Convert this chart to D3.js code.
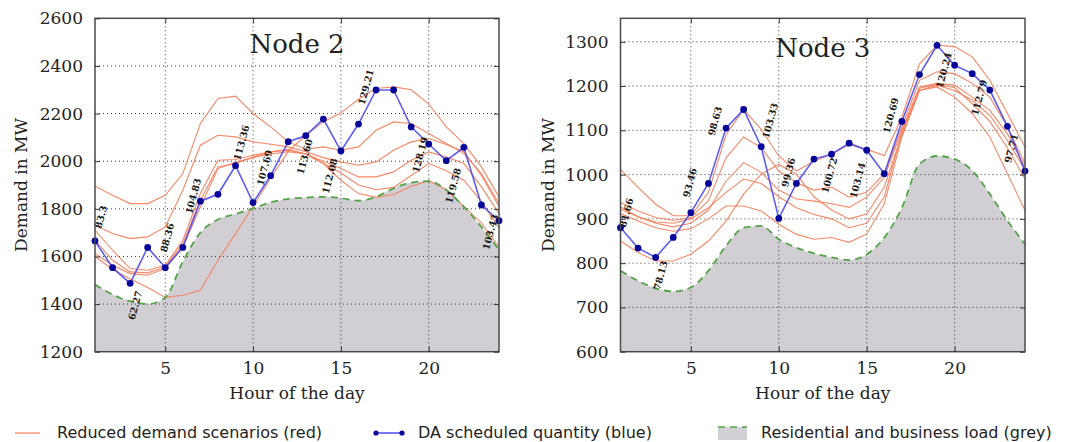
<!DOCTYPE html>
<html><head><meta charset="utf-8">
<script src="https://cdn.jsdelivr.net/npm/d3@7"></script>
<style>body{margin:0;background:#fff}svg{display:block}</style>
</head><body>
<svg id="chart" width="1076" height="442"></svg>
<script>
// ---------- DATA ----------
const hours = [1,2,3,4,5,6,7,8,9,10,11,12,13,14,15,16,17,18,19,20,21,22,23,24];
const xTicks = [5,10,15,20];
const node2YTicks = [1200,1400,1600,1800,2000,2200,2400,2600];
const node3YTicks = [600,700,800,900,1000,1100,1200,1300];

const node2Load = [1482,1440,1412,1400,1428,1578,1700,1755,1778,1802,1827,1842,1847,1850,1845,1834,1850,1886,1910,1916,1879,1808,1724,1628];
const node2Scheduled = [1665,1553,1487,1638,1553,1638,1832,1861,1981,1826,1939,2082,2107,2177,2043,2156,2299,2299,2144,2072,2002,2058,1816,1750];
const node2Scenario1 = [1895,1857,1822,1822,1857,1948,2158,2263,2273,2200,2144,2081,2050,2060,2046,2060,2130,2165,2158,2116,2074,2032,1948,1822];
const node2Scenario2 = [1731,1696,1675,1682,1724,1878,2067,2109,2102,2081,2071,2060,2040,2015,1997,1983,1997,2046,2081,2095,2070,2040,1940,1810];
const node2Scenario3 = [1710,1626,1549,1542,1563,1668,1864,2004,2007,2025,2039,2046,2030,2000,1969,1934,1934,1955,2004,2039,2018,1990,1892,1780];
const node2Scenario4 = [1668,1584,1535,1531,1556,1654,1836,1976,1990,2018,2039,2050,2030,1990,1950,1900,1880,1890,1940,1990,1960,1920,1830,1720];
const node2Scenario5 = [1612,1563,1528,1521,1549,1640,1808,1969,1995,2015,2030,2040,2030,1990,1920,1864,1848,1860,1895,1918,1880,1810,1740,1640];
const node2Scenario6 = [1600,1545,1505,1470,1428,1437,1458,1584,1696,1810,1930,2040,2110,2165,2203,2260,2305,2312,2300,2240,2144,2074,1976,1850];

const node3Load = [783,760,743,736,745,783,839,880,884,854,835,822,813,807,820,858,925,1024,1042,1035,1009,956,896,843];
const node3Scheduled = [880,834,813,858,914,980,1105,1147,1063,901,980,1035,1046,1071,1055,1002,1120,1226,1292,1247,1228,1191,1109,1008];
const node3Scenario1 = [1012,971,933,907,907,960,1090,1147,1102,1042,1008,1030,1046,1068,1057,1043,1130,1250,1292,1289,1266,1213,1138,1062];
const node3Scenario2 = [937,918,903,897,903,941,1038,1085,1061,1008,982,965,972,949,960,1002,1107,1213,1232,1228,1206,1175,1108,1025];
const node3Scenario3 = [922,905,890,882,890,920,985,1027,1005,965,945,940,934,926,949,994,1100,1198,1206,1202,1175,1145,1092,1017];
const node3Scenario4 = [912,895,880,872,878,900,929,929,918,888,865,854,858,847,866,934,1085,1190,1202,1190,1168,1134,1077,1010];
const node3Scenario5 = [850,824,805,805,820,850,895,956,1001,1023,1001,950,920,900,911,972,1090,1190,1198,1175,1138,1085,1002,919];
const node3Scenario6 = [927,905,893,890,900,925,960,990,980,950,925,910,900,880,890,950,1095,1195,1204,1196,1160,1120,1060,990];

const labelHours = [1,3,5,7,9,11,13,15,17,19,21,23];
const node2Labels = ["83.3","62.27","88.36","104.83","113.36","107.69","113.60","112.08","129.21","128.19","119.58","103.43"];
const node3Labels = ["81.66","78.13","93.46","98.63","103.33","99.36","100.72","103.14","120.69","120.24","112.79","97.71"];

const legendLabels = ["Reduced demand scenarios (red)","DA scheduled quantity (blue)","Residential and business load (grey)"];

// ---------- LAYOUT / STYLE ----------
const node2LabelOffsets = [[6,-24],[5,22],[2,-30],[-7,-5],[6,-23],[-6,-8],[-1,21],[-11,25],[-10,-3],[9,28],[7,25],[9,27]];
const node3LabelOffsets = [[6,-15],[5,18],[-1,-30],[-11,-7],[9,-26],[-8,-11],[-2,21],[-9,30],[-11,-6],[7,25],[7,24],[4,22]];

const panels = [
  {title:"Node 2", left:95, right:499, top:18.3, bottom:351.7, yDomain:[1200,2600], yTicks:node2YTicks,
   load:node2Load, sched:node2Scheduled,
   scen:[node2Scenario1,node2Scenario2,node2Scenario3,node2Scenario4,node2Scenario5,node2Scenario6],
   labels:node2Labels, offsets:node2LabelOffsets, titleY:53, yLabelX:21},
  {title:"Node 3", left:620.5, right:1025, top:18.3, bottom:351.7, yDomain:[600,1353], yTicks:node3YTicks,
   load:node3Load, sched:node3Scheduled,
   scen:[node3Scenario1,node3Scenario2,node3Scenario3,node3Scenario4,node3Scenario5,node3Scenario6],
   labels:node3Labels, offsets:node3LabelOffsets, titleY:57, yLabelX:548}
];

const RED = "#f4825e", BLUE = "#4b4bf0", NAVY = "#06069a", GREY = "#d1cfd4", GREEN = "#52a447";
const SERIF = "'DejaVu Serif', serif", SANS = "'DejaVu Sans', sans-serif";

const svg = d3.select("#chart");

panels.forEach((p, i) => {
  const x = d3.scaleLinear().domain([1,24]).range([p.left, p.right]);
  const y = d3.scaleLinear().domain(p.yDomain).range([p.bottom, p.top]);
  const g = svg.append("g");
  const clipId = "clip" + i;
  svg.append("clipPath").attr("id", clipId).append("rect")
    .attr("x", p.left).attr("y", p.top).attr("width", p.right - p.left).attr("height", p.bottom - p.top);

  const plot = g.append("g").attr("clip-path", `url(#${clipId})`);

  // grey load area
  const loadPts = hours.map((h, k) => [h, p.load[k]]);
  plot.append("path").datum(loadPts)
    .attr("d", d3.area().x(d => x(d[0])).y0(p.bottom).y1(d => y(d[1])).curve(d3.curveMonotoneX))
    .attr("fill", GREY);

  // grid
  plot.selectAll(".vg").data(xTicks).join("line")
    .attr("x1", d => x(d)).attr("x2", d => x(d)).attr("y1", p.top).attr("y2", p.bottom)
    .attr("stroke", "#333").attr("stroke-width", 1).attr("stroke-dasharray", "1,3");
  plot.selectAll(".hg").data(p.yTicks).join("line")
    .attr("x1", p.left).attr("x2", p.right).attr("y1", d => y(d)).attr("y2", d => y(d))
    .attr("stroke", "#333").attr("stroke-width", 1).attr("stroke-dasharray", "1,3");

  // red scenarios
  const line = d3.line().x(d => x(d[0])).y(d => y(d[1]));
  p.scen.forEach(s => {
    plot.append("path").datum(hours.map((h, k) => [h, s[k]]))
      .attr("d", line).attr("fill", "none").attr("stroke", RED).attr("stroke-width", 1.1).attr("opacity", 0.95);
  });

  // green dashed load edge
  plot.append("path").datum(loadPts)
    .attr("d", d3.line().x(d => x(d[0])).y(d => y(d[1])).curve(d3.curveMonotoneX))
    .attr("fill", "none").attr("stroke", GREEN).attr("stroke-width", 1.8).attr("stroke-dasharray", "7,5");

  // blue scheduled
  const schedPts = hours.map((h, k) => [h, p.sched[k]]);
  plot.append("path").datum(schedPts).attr("d", line)
    .attr("fill", "none").attr("stroke", BLUE).attr("stroke-width", 1.6).attr("opacity", 0.9);
  g.selectAll(".dot").data(schedPts).join("circle")
    .attr("cx", d => x(d[0])).attr("cy", d => y(d[1])).attr("r", 3.4).attr("fill", NAVY);

  // price labels
  labelHours.forEach((h, k) => {
    const v = p.sched[hours.indexOf(h)];
    const cx = x(h) + p.offsets[k][0], cy = y(v) + p.offsets[k][1];
    g.append("text").attr("transform", `translate(${cx},${cy}) rotate(-75)`)
      .attr("text-anchor", "middle").attr("dy", "0.35em")
      .attr("font-family", SERIF).attr("font-weight", "bold").attr("font-size", 9.5)
      .attr("fill", "#1a1a1a").text(p.labels[k]);
  });

  // frame
  g.append("rect").attr("x", p.left).attr("y", p.top).attr("width", p.right - p.left).attr("height", p.bottom - p.top)
    .attr("fill", "none").attr("stroke", "#4a4a4a").attr("stroke-width", 1.5);

  // axes (inward ticks)
  const styleAxis = sel => {
    sel.select(".domain").remove();
    sel.selectAll(".tick line").attr("stroke", "#333").attr("stroke-width", 1);
    sel.selectAll("text").attr("font-family", SERIF).attr("font-size", 17).attr("fill", "#222");
  };
  g.append("g").attr("transform", `translate(0,${p.bottom})`)
    .call(d3.axisBottom(x).tickValues(xTicks).tickSize(-5).tickPadding(10).tickFormat(d3.format("d"))).call(styleAxis);
  g.append("g").attr("transform", `translate(0,${p.top})`)
    .call(d3.axisTop(x).tickValues(xTicks).tickSize(-5).tickFormat("")).call(styleAxis);
  g.append("g").attr("transform", `translate(${p.left},0)`)
    .call(d3.axisLeft(y).tickValues(p.yTicks).tickSize(-5).tickPadding(12).tickFormat(d3.format("d"))).call(styleAxis);
  g.append("g").attr("transform", `translate(${p.right},0)`)
    .call(d3.axisRight(y).tickValues(p.yTicks).tickSize(-5).tickFormat("")).call(styleAxis);

  // titles
  g.append("text").attr("x", (p.left + p.right) / 2).attr("y", p.titleY).attr("text-anchor", "middle")
    .attr("font-family", SERIF).attr("font-size", 26).attr("fill", "#222").text(p.title);
  g.append("text").attr("x", (p.left + p.right) / 2).attr("y", 399).attr("text-anchor", "middle")
    .attr("font-family", SERIF).attr("font-size", 17).attr("fill", "#222").text("Hour of the day");
  g.append("text").attr("transform", `translate(${p.yLabelX},${(p.top + p.bottom) / 2}) rotate(-90)`)
    .attr("text-anchor", "middle").attr("dy", "0.35em")
    .attr("font-family", SERIF).attr("font-size", 17).attr("fill", "#222").text("Demand in MW");
});

// ---------- LEGEND ----------
const leg = svg.append("g");
const ly = 433;
leg.append("line").attr("x1", 15).attr("x2", 40).attr("y1", ly).attr("y2", ly).attr("stroke", RED).attr("stroke-width", 1.2);
leg.append("text").attr("x", 57).attr("y", 438).attr("font-family", SANS).attr("font-size", 16).attr("fill", "#222").text(legendLabels[0]);

leg.append("line").attr("x1", 376).attr("x2", 402).attr("y1", ly).attr("y2", ly).attr("stroke", BLUE).attr("stroke-width", 1.5);
leg.selectAll(".ld").data([376, 402]).join("circle").attr("cx", d => d).attr("cy", ly).attr("r", 2.6).attr("fill", NAVY);
leg.append("text").attr("x", 418).attr("y", 438).attr("font-family", SANS).attr("font-size", 16).attr("fill", "#222").text(legendLabels[1]);

leg.append("rect").attr("x", 718).attr("y", 427).attr("width", 29).attr("height", 13).attr("fill", GREY);
leg.append("line").attr("x1", 718).attr("x2", 747).attr("y1", 427).attr("y2", 427)
  .attr("stroke", GREEN).attr("stroke-width", 1.6).attr("stroke-dasharray", "7,5");
leg.append("text").attr("x", 761).attr("y", 438).attr("font-family", SANS).attr("font-size", 16).attr("fill", "#222").text(legendLabels[2]);
</script>
</body></html>
